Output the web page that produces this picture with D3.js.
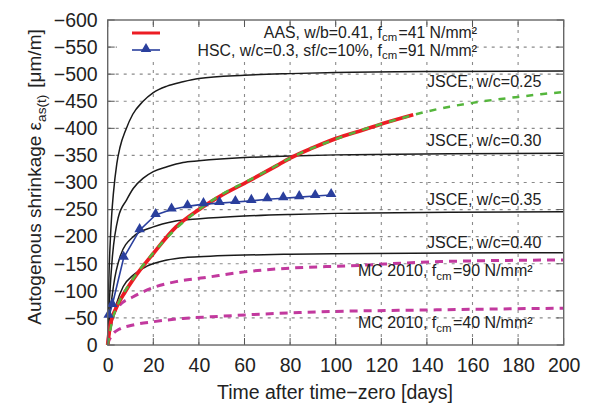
<!DOCTYPE html>
<html>
<head>
<meta charset="utf-8">
<script src="https://cdn.jsdelivr.net/npm/d3@7"></script>
<style>
  html, body { margin: 0; padding: 0; background: #fff; }
  svg text { font-family: "Liberation Sans", Arial, Helvetica, sans-serif; fill: #222; }
</style>
</head>
<body>
<svg id="chart" width="591" height="405"></svg>
<script>
// Axis ticks
const xTicks = [0, 20, 40, 60, 80, 100, 120, 140, 160, 180, 200];
const yTicks = [0, -50, -100, -150, -200, -250, -300, -350, -400, -450, -500, -550, -600];

// JSCE model curves (days, µm/m)
const jsce025Days = [0, 0.5, 1, 1.75, 2.5, 4, 5.4, 8, 11, 15.3, 20, 26, 33, 40, 60, 80, 100, 150, 200];
const jsce025 = [0, -120, -180, -240, -280, -335, -365, -398, -426, -449, -466, -478, -486, -492, -498, -501, -503, -505, -506];
const jsce030Days = [0, 0.5, 1, 2, 4.6, 8.3, 11.2, 15.6, 20, 26, 33, 40, 60, 80, 100, 150, 200];
const jsce030 = [0, -60, -100, -160, -235, -268, -289, -308, -320, -329, -337, -340, -346, -349, -351, -353, -354];
const jsce035Days = [0, 1, 2.5, 5.4, 11.2, 20, 28.8, 40.5, 60, 80, 100, 150, 200];
const jsce035 = [0, -55, -108, -163, -200, -218, -228, -233, -238, -241, -243, -245, -246];
const jsce040Days = [0, 1, 2, 4, 6.8, 11.2, 17, 26, 35, 45, 60, 80, 100, 150, 200];
const jsce040 = [0, -25, -45, -78, -108, -129, -145, -157, -162, -164, -166, -167.5, -168.5, -170, -170.5];

// fib Model Code 2010 curves
const mc90Days = [0, 0.5, 1, 2.5, 5, 11.2, 20, 30, 42, 60, 80, 105, 146, 200];
const mc90 = [0, -20, -30, -55, -72, -89, -106, -117, -124, -135, -142, -146, -154, -157];
const mc40Days = [0, 0.5, 1, 2.5, 5, 11.2, 20, 33, 45, 84, 146, 200];
const mc40 = [0, -8, -12, -21.6, -29, -37, -43, -49, -52, -60, -65, -68];

// Measured: HSC
const hscDays = [0.4, 2, 7, 14, 21, 28, 35, 42, 49, 56, 63, 70, 77, 84, 91, 98];
const hsc = [-54, -74, -161, -212, -240, -250, -256, -260, -262, -264, -266, -269, -271, -273, -275, -277];

// Measured: AAS and its fitted extrapolation
const aasDays = [0, 1, 4, 7.6, 11, 20, 30, 40, 49, 62, 75, 81, 90, 100, 112, 124, 134];
const aas = [0, -34, -71, -98, -120, -169, -218, -250, -274, -303, -333, -347, -364, -381, -397, -413, -425];
const fitDays = [0, 2, 5, 10, 20, 30, 40, 50, 60, 70, 80, 90, 100, 110, 120, 130, 140, 150, 160, 170, 180, 190, 200];
const fit = [0, -45, -80, -115, -170, -215, -250, -278, -300, -322, -345, -364, -380, -395, -408, -420, -431, -440, -447, -453, -458, -463, -467];

const svg = d3.select("#chart");
const L = 107.7, R = 563.7, T = 20, B = 345;

const x = d3.scaleLinear().domain([0, 200]).range([L, R]);
const y = d3.scaleLinear().domain([0, -600]).range([B, T]);

const fmt = v => (v < 0 ? "\u2212" + Math.abs(v) : String(v));

// grid
const grid = svg.append("g").attr("stroke", "#8a8a8a").attr("stroke-width", 1.1)
  .attr("stroke-dasharray", "3,5").attr("fill", "none");
xTicks.slice(1, -1).forEach(t => grid.append("line")
  .attr("x1", x(t)).attr("x2", x(t)).attr("y1", B).attr("y2", T));
yTicks.slice(1, -1).forEach(t => grid.append("line")
  .attr("y1", y(t)).attr("y2", y(t)).attr("x1", L).attr("x2", R));

// axes with labels
const xAxis = d3.axisBottom(x).tickValues(xTicks).tickSize(0).tickPadding(13).tickFormat(fmt);
const yAxis = d3.axisLeft(y).tickValues(yTicks).tickSize(0).tickPadding(10).tickFormat(fmt);
const gx = svg.append("g").attr("transform", `translate(0,${B})`).call(xAxis);
const gy = svg.append("g").attr("transform", `translate(${L},0)`).call(yAxis);
[gx, gy].forEach(g => {
  g.select(".domain").remove();
  g.selectAll("text").attr("font-size", 19.5).attr("fill", "#222")
    .style("font-family", "'Liberation Sans', Arial, sans-serif");
});

// inward tick marks on all four sides
const ticks = svg.append("g").attr("stroke", "#555").attr("stroke-width", 1);
xTicks.forEach(t => {
  ticks.append("line").attr("x1", x(t)).attr("x2", x(t)).attr("y1", B).attr("y2", B - 7);
  ticks.append("line").attr("x1", x(t)).attr("x2", x(t)).attr("y1", T).attr("y2", T + 7);
});
yTicks.forEach(t => {
  ticks.append("line").attr("y1", y(t)).attr("y2", y(t)).attr("x1", L).attr("x2", L + 7);
  ticks.append("line").attr("y1", y(t)).attr("y2", y(t)).attr("x1", R).attr("x2", R - 7);
});

// legend background
svg.append("rect").attr("x", 117).attr("y", 28).attr("width", 354).attr("height", 32).attr("fill", "#fff");

const line = d3.line().x(d => x(d[0])).y(d => y(d[1])).curve(d3.curveMonotoneX);
const zip = (a, b) => a.map((d, i) => [d, b[i]]);

const plot = svg.append("g");

// JSCE curves
[[jsce025Days, jsce025], [jsce030Days, jsce030], [jsce035Days, jsce035], [jsce040Days, jsce040]]
  .forEach(([d, v]) => plot.append("path").attr("d", line(zip(d, v)))
    .attr("fill", "none").attr("stroke", "#1a1a1a").attr("stroke-width", 1.5));

// MC 2010 curves
[[mc90Days, mc90], [mc40Days, mc40]].forEach(([d, v]) => plot.append("path").attr("d", line(zip(d, v)))
  .attr("fill", "none").attr("stroke", "#c2399e").attr("stroke-width", 3)
  .attr("stroke-dasharray", "8,6"));

// AAS measured
plot.append("path").attr("d", line(zip(aasDays, aas)))
  .attr("fill", "none").attr("stroke", "#ec1c24").attr("stroke-width", 3.8);

// AAS fit
plot.append("path").attr("d", line(zip(fitDays, fit)))
  .attr("fill", "none").attr("stroke", "#55b63c").attr("stroke-width", 2.5)
  .attr("stroke-dasharray", "7,7");

// HSC measured
const blue = "#2a3f9d";
plot.append("path").attr("d", d3.line().x(d => x(d[0])).y(d => y(d[1]))(zip(hscDays, hsc)))
  .attr("fill", "none").attr("stroke", blue).attr("stroke-width", 1.6);
const tri = d3.symbol().type(d3.symbolTriangle).size(48);
plot.selectAll("path.tri").data(zip(hscDays, hsc)).join("path").attr("class", "tri")
  .attr("d", tri).attr("fill", blue)
  .attr("transform", d => `translate(${x(d[0])},${y(d[1]) - 1})`);

// frame
svg.append("rect").attr("x", L).attr("y", T).attr("width", R - L).attr("height", B - T)
  .attr("fill", "none").attr("stroke", "#666").attr("stroke-width", 1.4);

// text helper with subscripts
function label(g, xPos, yPos, parts, anchor, size) {
  const t = g.append("text").attr("x", xPos).attr("y", yPos).attr("font-size", size)
    .attr("text-anchor", anchor || "start");
  parts.forEach(p => {
    if (typeof p === "string") t.append("tspan").text(p);
    else {
      t.append("tspan").attr("dy", p.dy).attr("font-size", size * 0.72).text(p.sub);
      t.append("tspan").attr("dy", -p.dy).text("\u200a");
    }
  });
  return t;
}

// legend
svg.append("line").attr("x1", 132).attr("x2", 160).attr("y1", 33).attr("y2", 33)
  .attr("stroke", "#ec1c24").attr("stroke-width", 3);
svg.append("line").attr("x1", 132).attr("x2", 160).attr("y1", 50).attr("y2", 50)
  .attr("stroke", blue).attr("stroke-width", 1.6);
svg.append("path").attr("d", tri).attr("fill", blue).attr("transform", "translate(146,49)");
label(svg, 477, 37.5, ["AAS, w/b=0.41, f", {sub: "cm", dy: 3}, "=41 N/mm\u00b2"], "end", 15.8);
label(svg, 477, 55.5, ["HSC, w/c=0.3, sf/c=10%, f", {sub: "cm", dy: 3}, "=91 N/mm\u00b2"], "end", 15.8);

// curve annotations
label(svg, 427, 87, ["JSCE, w/c=0.25"], "start", 16);
label(svg, 427, 146, ["JSCE, w/c=0.30"], "start", 16);
label(svg, 427, 205, ["JSCE, w/c=0.35"], "start", 16);
label(svg, 427, 248, ["JSCE, w/c=0.40"], "start", 16);
label(svg, 358, 276, ["MC 2010, f", {sub: "cm", dy: 4}, "=90 N/mm\u00b2"], "start", 16);
label(svg, 358, 328, ["MC 2010, f", {sub: "cm", dy: 4}, "=40 N/mm\u00b2"], "start", 16);

// axis titles
label(svg, 335, 399, ["Time after time\u2212zero [days]"], "middle", 19.5);
const yt = svg.append("g").attr("transform", "translate(41,177) rotate(-90)");
label(yt, 0, 0, ["Autogenous shrinkage \u03b5", {sub: "as(t)", dy: 5}, " [\u03bcm/m]"], "middle", 19);
</script>
</body>
</html>
